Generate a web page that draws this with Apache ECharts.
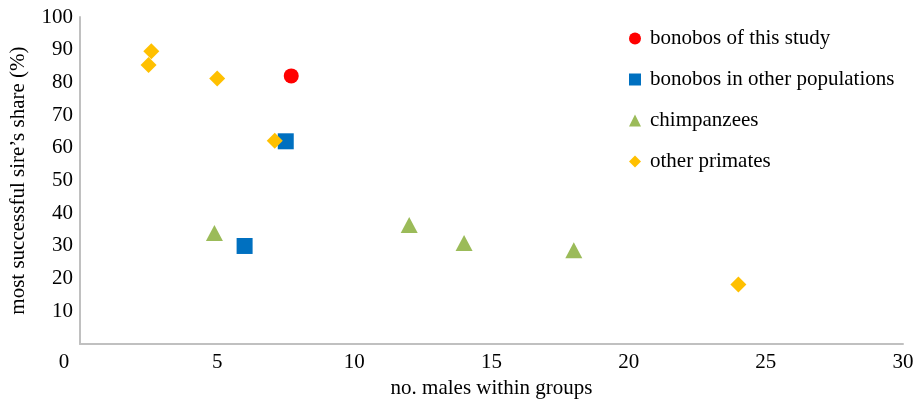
<!DOCTYPE html>
<html>
<head>
<meta charset="utf-8">
<script src="https://cdn.jsdelivr.net/npm/echarts@6/dist/echarts.min.js"></script>
<style>html,body{margin:0;padding:0;background:#fff}#c{width:917px;height:404px}</style>
</head>
<body>
<div id="c"></div>
<script>
var seriesNames = ['bonobos of this study', 'bonobos in other populations', 'chimpanzees', 'other primates'];
var bonobosThisStudy = [[7.7, 82]];
var bonobosOther = [[7.5, 62], [6.0, 30]];
var chimpanzees = [[4.9, 34], [12, 36.4], [14, 30.9], [18, 28.7]];
var otherPrimates = [[2.6, 89.5], [2.5, 85.3], [5.0, 81.2], [7.1, 62.2], [24, 18.2]];
var xTicks = [0, 5, 10, 15, 20, 25, 30];
var yTicks = [0, 10, 20, 30, 40, 50, 60, 70, 80, 90, 100];

var font = '"Liberation Serif", "Times New Roman", serif';
var fs = 21;
var chart = echarts.init(document.getElementById('c'), null, {renderer: 'canvas'});
chart.setOption({
  animation: false,
  textStyle: {fontFamily: font},
  grid: {left: 79, top: 17, right: 14, bottom: 58, containLabel: false},
  legend: {
    orient: 'vertical', left: 624, top: 23, padding: 5,
    itemWidth: 12, itemHeight: 12, itemGap: 20,
    textStyle: {fontFamily: font, fontSize: fs, color: '#000', lineHeight: 21, padding: [0, 0, 0, 4]},
    data: [
      {name: seriesNames[0], icon: 'circle'},
      {name: seriesNames[1], icon: 'rect'},
      {name: seriesNames[2], icon: 'triangle'},
      {name: seriesNames[3], icon: 'diamond'}
    ]
  },
  xAxis: {
    type: 'value', min: xTicks[0], max: xTicks[xTicks.length - 1], interval: 5,
    name: 'no. males within groups', nameLocation: 'middle', nameGap: 31,
    nameTextStyle: {fontFamily: font, fontSize: fs, color: '#000'},
    axisLine: {show: true, lineStyle: {color: '#c0c0c0', width: 2}},
    axisTick: {show: false}, splitLine: {show: false},
    axisLabel: {
      fontFamily: font, fontSize: fs, color: '#000', margin: 8,
      formatter: function (v) { return v === 0 ? '{z|0}' : String(v); },
      rich: {z: {fontFamily: font, fontSize: fs, color: '#000', padding: [0, 32, 0, 0]}}
    }
  },
  yAxis: {
    type: 'value', min: yTicks[0], max: yTicks[yTicks.length - 1], interval: 10,
    name: 'most successful sire\u2019s share (%)', nameLocation: 'middle', nameGap: 51,
    nameTextStyle: {fontFamily: font, fontSize: fs, color: '#000'},
    axisLine: {show: true, lineStyle: {color: '#c0c0c0', width: 2}},
    axisTick: {show: false}, splitLine: {show: false},
    axisLabel: {fontFamily: font, fontSize: fs, color: '#000', margin: 7, showMinLabel: false}
  },
  series: [
    {name: seriesNames[0], type: 'scatter', symbol: 'circle', symbolSize: 15, data: bonobosThisStudy, itemStyle: {color: '#FF0000', opacity: 1}, z: 4},
    {name: seriesNames[1], type: 'scatter', symbol: 'rect', symbolSize: 16, data: bonobosOther, itemStyle: {color: '#0070C0', opacity: 1}, z: 3},
    {name: seriesNames[2], type: 'scatter', symbol: 'triangle', symbolSize: [17, 16], data: chimpanzees, itemStyle: {color: '#9BBB59', opacity: 1}, z: 3},
    {name: seriesNames[3], type: 'scatter', symbol: 'diamond', symbolSize: 16, data: otherPrimates, itemStyle: {color: '#FFC000', opacity: 1}, z: 5}
  ]
});
</script>
</body>
</html>
